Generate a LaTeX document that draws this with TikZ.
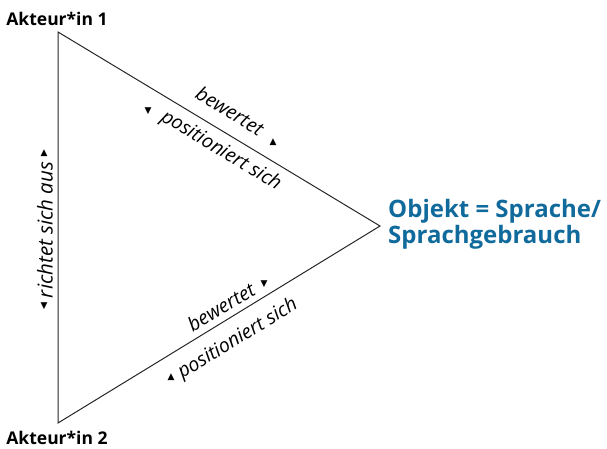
\documentclass[tikz,border=0pt]{standalone}
\usepackage{fontspec}
\setmainfont{Open Sans}
\newfontfamily\symfont{DejaVu Sans}
\definecolor{objblue}{RGB}{16,106,155}
\begin{document}
\begin{tikzpicture}[x=1pt,y=-1pt,
  edge/.style={draw=black!85, line width=1pt, line join=miter},
  actor/.style={font=\fontsize{17.5}{20}\selectfont\bfseries, inner sep=0pt},
  objtext/.style={font=\fontsize{24}{26}\selectfont\bfseries, text=objblue, inner sep=0pt, align=left},
  rel/.style={font=\fontsize{19.5}{22}\selectfont\itshape, inner sep=0pt},
  tip/.style={font=\symfont\fontsize{9}{10}\selectfont, inner sep=0pt}]
\useasboundingbox (0,0) rectangle (607,448);

% corners of the triangle
\coordinate (A1) at (58,32);
\coordinate (A2) at (58,423);
\coordinate (O) at (380,226);
\draw[edge] (A1) -- (O) -- (A2) -- cycle;

% corner labels
\node[actor] (a1) at (57,19) {Akteur*in 1};
\node[actor] (a2) at (57,438) {Akteur*in 2};
\node[objtext, anchor=west] (obj) at (388,224) {Objekt = Sprache/\\Sprachgebrauch};

% relations along the edges
\node[rel, rotate=-31.07] (b1) at (230,111) {bewertet};
\node[rel, rotate=-31.07] (p1) at (221,151) {positioniert sich};
\node[rel, rotate=31.46] (b2) at (221,307) {bewertet};
\node[rel, rotate=31.46] (p2) at (238,339) {positioniert sich};
\node[rel, rotate=90, font=\fontsize{20.5}{22}\selectfont\itshape] (r) at (45,230) {richtet sich aus};

% direction marks
\node[tip] (t1) at (273,142) {▲};
\node[tip] (t2) at (148,111) {▼};
\node[tip] (t3) at (264,284) {▼};
\node[tip] (t4) at (171,377) {▲};
\node[tip] (t5) at (44,153) {▲};
\node[tip] (t6) at (44,306) {▼};
\end{tikzpicture}
\end{document}
